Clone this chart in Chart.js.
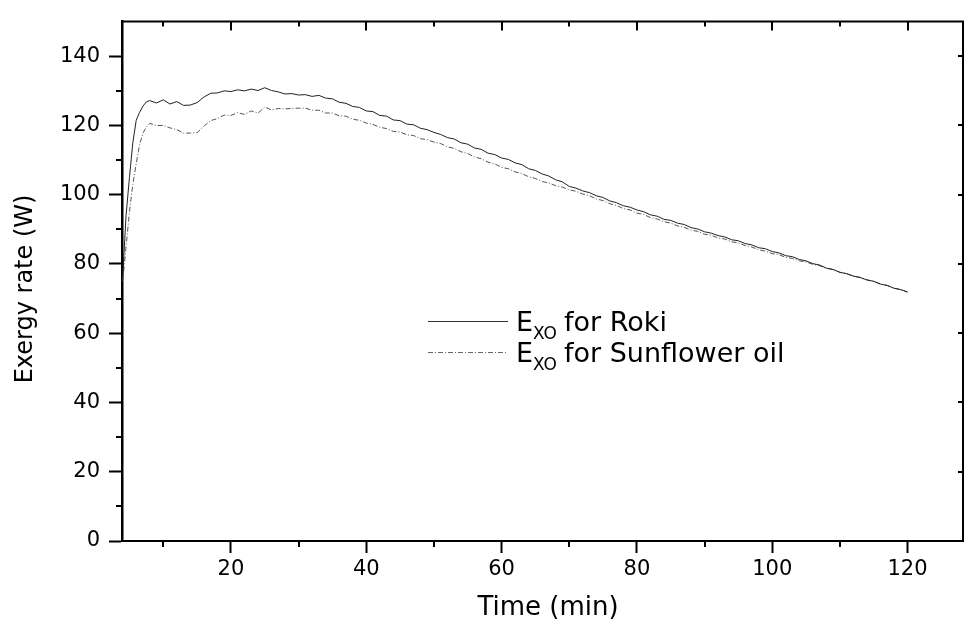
<!DOCTYPE html>
<html lang="en">
<head>
    <meta charset="UTF-8">
    <title>Exergy rate vs time</title>
    <script src="https://cdn.jsdelivr.net/npm/chart.js"></script>
    <style>
        body { margin: 0; background: #fff; }
        canvas { display: block; }
    </style>
</head>
<body>
    <canvas id="exergyChart" width="966" height="623"></canvas>

    <script>
        // Time (min)
        const timeMin = [
            4, 4.5, 5, 5.5, 6, 6.5, 7, 7.5, 8, 9, 10, 11, 12, 13, 14, 15, 16, 17, 18, 19, 20,
            21, 22, 23, 24, 25, 26, 27, 28, 29, 30, 31, 32, 33, 34, 35, 36, 37, 38, 39, 40,
            41, 42, 43, 44, 45, 46, 47, 48, 49, 50, 51, 52, 53, 54, 55, 56, 57, 58, 59, 60,
            61, 62, 63, 64, 65, 66, 67, 68, 69, 70, 71, 72, 73, 74, 75, 76, 77, 78, 79, 80,
            81, 82, 83, 84, 85, 86, 87, 88, 89, 90, 91, 92, 93, 94, 95, 96, 97, 98, 99, 100,
            101, 102, 103, 104, 105, 106, 107, 108, 109, 110, 111, 112, 113, 114, 115, 116, 117, 118, 119, 120
        ];

        // Exergy rate (W) for Roki
        const rokiValues = [
            76, 94, 105, 115, 121.5, 123.8, 125.6, 126.8, 127.2, 126.5, 127.4, 126.2, 126.9, 125.8, 125.9, 126.6, 128.2, 129.3, 129.4, 130.0, 129.8,
            130.3, 130.0, 130.5, 130.1, 130.9, 130.1, 129.7, 129.1, 129.2, 128.8, 128.9, 128.4, 128.7, 127.9, 127.7, 126.7, 126.4, 125.5, 125.2, 124.2,
            124.0, 122.9, 122.7, 121.6, 121.4, 120.4, 120.2, 119.2, 118.8, 118.0, 117.4, 116.5, 116.1, 115.0, 114.6, 113.5, 113.1, 112.0, 111.6, 110.6,
            110.2, 109.2, 108.7, 107.5, 107.0, 106.0, 105.4, 104.3, 103.7, 102.4, 101.9, 101.1, 100.6, 99.7, 99.2, 98.2, 97.7, 96.8, 96.4, 95.6,
            95.1, 94.2, 93.8, 92.9, 92.6, 91.8, 91.4, 90.5, 90.1, 89.3, 88.9, 88.2, 87.8, 87.0, 86.7, 85.9, 85.5, 84.7, 84.4, 83.6,
            83.2, 82.4, 82.1, 81.3, 80.9, 80.1, 79.7, 78.8, 78.4, 77.6, 77.2, 76.5, 76.1, 75.4, 75.0, 74.2, 73.8, 73.0, 72.6, 71.9
        ];

        // Exergy rate (W) for Sunflower oil
        const sunflowerValues = [
            75, 85, 95, 103, 109, 114.5, 117.8, 119.6, 120.6, 120.0, 120.0, 119.3, 118.8, 117.8, 117.8, 117.9, 119.8, 121.4, 122.0, 123.0, 122.9,
            123.7, 123.2, 124.2, 123.6, 125.3, 124.5, 124.9, 124.8, 124.9, 125.0, 125.0, 124.4, 124.4, 123.6, 123.6, 122.8, 122.7, 121.8, 121.5, 120.7,
            120.3, 119.5, 119.1, 118.3, 118.1, 117.3, 117.1, 116.2, 115.9, 115.2, 114.8, 113.8, 113.4, 112.4, 111.9, 110.9, 110.4, 109.4, 108.9, 107.9,
            107.5, 106.6, 106.1, 105.2, 104.7, 103.8, 103.4, 102.6, 102.2, 101.4, 101.0, 100.2, 99.7, 98.8, 98.3, 97.4, 96.9, 96.0, 95.6, 94.7,
            94.3, 93.4, 93.0, 92.2, 91.8, 91.0, 90.6, 89.8, 89.4, 88.6, 88.3, 87.5, 87.2, 86.4, 86.1, 85.3, 84.9, 84.1, 83.7, 83.0,
            82.7, 81.9, 81.6, 80.9, 80.6, 79.9, 79.5, 78.8, 78.4, 77.6, 77.2, 76.5, 76.1, 75.4, 75.0, 74.2, 73.8, 73.0, 72.6, 71.9
        ];

        // Axis ticks
        const xMajorTicks = [20, 40, 60, 80, 100, 120];
        const xMinorTicks = [10, 30, 50, 70, 90, 110];
        const yMajorTicks = [0, 20, 40, 60, 80, 100, 120, 140];
        const yMinorTicks = [10, 30, 50, 70, 90, 110, 130];

        const seriesNames = ['for Roki', 'for Sunflower oil'];
        const sunflowerDash = [5, 2, 1, 2];

        // frame, minor ticks, titles and legend
        const extrasPlugin = {
            id: 'extras',
            afterDraw(chart) {
                const ctx = chart.ctx;
                const area = chart.chartArea;
                const xs = chart.scales.x;
                const ys = chart.scales.y;
                ctx.save();
                ctx.strokeStyle = '#000';
                ctx.lineWidth = 2;

                // top and right frame lines
                ctx.beginPath();
                ctx.moveTo(area.left, area.top);
                ctx.lineTo(area.right, area.top);
                ctx.lineTo(area.right, area.bottom);
                ctx.stroke();

                ctx.beginPath();
                // bottom minor ticks (outward)
                xMinorTicks.forEach(v => {
                    const px = Math.round(xs.getPixelForValue(v));
                    ctx.moveTo(px, area.bottom);
                    ctx.lineTo(px, area.bottom + 6);
                });
                // top ticks (inward)
                xMajorTicks.forEach(v => {
                    const px = Math.round(xs.getPixelForValue(v));
                    ctx.moveTo(px, area.top);
                    ctx.lineTo(px, area.top + 9);
                });
                xMinorTicks.forEach(v => {
                    const px = Math.round(xs.getPixelForValue(v));
                    ctx.moveTo(px, area.top);
                    ctx.lineTo(px, area.top + 5);
                });
                // left minor ticks (outward)
                yMinorTicks.forEach(v => {
                    const py = Math.round(ys.getPixelForValue(v));
                    ctx.moveTo(area.left, py);
                    ctx.lineTo(area.left - 6, py);
                });
                // right ticks (inward)
                yMajorTicks.slice(1).forEach(v => {
                    const py = Math.round(ys.getPixelForValue(v));
                    ctx.moveTo(area.right, py);
                    ctx.lineTo(area.right - 5, py);
                });
                ctx.stroke();

                // axis titles
                ctx.fillStyle = '#000';
                ctx.font = '26px "DejaVu Sans"';
                ctx.textAlign = 'center';
                ctx.textBaseline = 'alphabetic';
                ctx.fillText('Time (min)', 548, 615);

                ctx.save();
                ctx.translate(32, 289);
                ctx.rotate(-Math.PI / 2);
                ctx.font = '24px "DejaVu Sans"';
                ctx.fillText('Exergy rate (W)', 0, 0);
                ctx.restore();

                // legend with subscript
                const rows = [
                    { y: 331, dash: [], color: '#333' },
                    { y: 362, dash: sunflowerDash, color: '#666' }
                ];
                rows.forEach((row, i) => {
                    ctx.beginPath();
                    ctx.setLineDash(row.dash);
                    ctx.strokeStyle = row.color;
                    ctx.lineWidth = 1;
                    ctx.moveTo(428, row.y - 9.5);
                    ctx.lineTo(508, row.y - 9.5);
                    ctx.stroke();
                    ctx.setLineDash([]);

                    ctx.textAlign = 'left';
                    ctx.fillStyle = '#000';
                    let x = 516;
                    ctx.font = '27px "DejaVu Sans"';
                    ctx.fillText('E', x, row.y);
                    x += ctx.measureText('E').width;
                    ctx.font = '17px "DejaVu Sans"';
                    ctx.fillText('XO', x, row.y + 8);
                    x += ctx.measureText('XO').width + 7;
                    ctx.font = '27px "DejaVu Sans"';
                    ctx.fillText(seriesNames[i], x, row.y);
                });
                ctx.restore();
            }
        };

        const ctxExergy = document.getElementById('exergyChart').getContext('2d');
        new Chart(ctxExergy, {
            type: 'line',
            data: {
                datasets: [
                    {
                        label: 'EXO ' + seriesNames[0],
                        data: timeMin.map((t, i) => ({ x: t, y: rokiValues[i] })),
                        borderColor: '#222',
                        borderWidth: 1,
                        pointRadius: 0,
                        tension: 0
                    },
                    {
                        label: 'EXO ' + seriesNames[1],
                        data: timeMin.map((t, i) => ({ x: t, y: sunflowerValues[i] })),
                        borderColor: '#555',
                        borderWidth: 1,
                        borderDash: sunflowerDash,
                        pointRadius: 0,
                        tension: 0
                    }
                ]
            },
            options: {
                responsive: false,
                animation: false,
                layout: {
                    padding: { top: 10, right: 3, left: 0, bottom: 0 }
                },
                plugins: {
                    legend: { display: false },
                    tooltip: { enabled: false }
                },
                scales: {
                    x: {
                        type: 'linear',
                        min: 3.9,
                        max: 128.2,
                        afterFit: scale => { scale.height = 82; },
                        afterBuildTicks: scale => {
                            scale.ticks = xMajorTicks.map(v => ({ value: v }));
                        },
                        ticks: {
                            color: '#000',
                            padding: 4,
                            maxRotation: 0,
                            font: { family: 'DejaVu Sans', size: 21 }
                        },
                        grid: {
                            drawOnChartArea: false,
                            drawTicks: true,
                            tickLength: 12,
                            tickWidth: 2,
                            tickColor: '#000'
                        },
                        border: { color: '#000', width: 2 }
                    },
                    y: {
                        min: 0,
                        max: 150,
                        afterFit: scale => { scale.width = 122; },
                        afterBuildTicks: scale => {
                            scale.ticks = yMajorTicks.map(v => ({ value: v }));
                        },
                        ticks: {
                            color: '#000',
                            padding: 9,
                            font: { family: 'DejaVu Sans', size: 21 }
                        },
                        grid: {
                            drawOnChartArea: false,
                            drawTicks: true,
                            tickLength: 13,
                            tickWidth: 2,
                            tickColor: '#000'
                        },
                        border: { color: '#000', width: 2.5 }
                    }
                }
            },
            plugins: [extrasPlugin]
        });
    </script>
</body>
</html>
